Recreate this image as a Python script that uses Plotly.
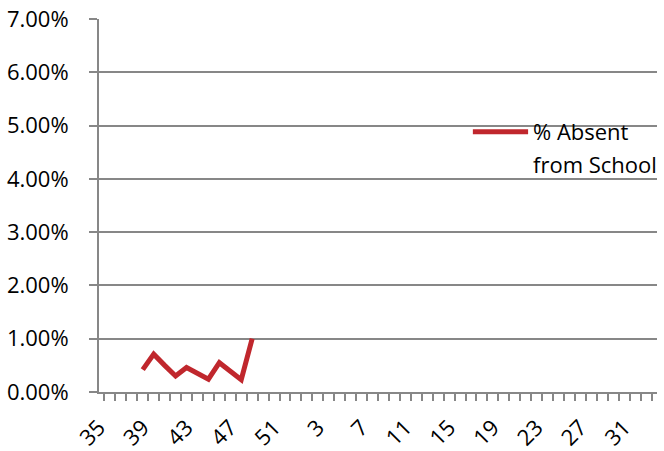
import plotly.graph_objects as go

weeks = ["35", "36", "37", "38", "39", "40", "41", "42", "43", "44", "45", "46",
         "47", "48", "49", "50", "51", "52", "1", "2", "3", "4", "5", "6", "7",
         "8", "9", "10", "11", "12", "13", "14", "15", "16", "17", "18", "19",
         "20", "21", "22", "23", "24", "25", "26", "27", "28", "29", "30", "31",
         "32", "33", "34"]
absent = [None, None, None, None, 0.0042, 0.0071, 0.0050, 0.0030, 0.0046,
          0.0034, 0.0024, 0.0055, 0.0040, 0.0023, 0.0100] + [None] * 37
label_weeks = ["35", "39", "43", "47", "51", "3", "7", "11", "15", "19", "23", "27", "31"]
series_name = "% Absent from School"

FONT = "Open Sans"
GRID = "#878787"
RED = "#C0272D"

fig = go.Figure()
fig.add_trace(go.Scatter(
    x=weeks, y=absent, mode="lines", name=series_name,
    line=dict(color=RED, width=5), connectgaps=False, showlegend=False,
))

fig.update_layout(
    width=664, height=451,
    margin=dict(l=99, r=7, t=19, b=59),
    paper_bgcolor="white", plot_bgcolor="white",
    font=dict(family=FONT, size=22, color="black"),
)
fig.update_xaxes(
    type="category", categoryorder="array", categoryarray=weeks,
    tickmode="array", tickvals=weeks,
    ticktext=[w if w in label_weeks else "" for w in weeks],
    tickson="boundaries", ticks="outside", ticklen=7, tickwidth=1.5, tickcolor=GRID,
    tickangle=-45, showline=True, linecolor=GRID, linewidth=2,
    showgrid=False, tickfont=dict(size=22), ticklabelstandoff=12,
    automargin=False,
)
fig.update_yaxes(
    range=[0, 0.07], dtick=0.01, tickformat=".2%",
    showgrid=True, gridcolor=GRID, gridwidth=1.5,
    showline=True, linecolor=GRID, linewidth=2,
    ticks="outside", ticklen=8, tickwidth=1.5, tickcolor=GRID,
    ticklabelstandoff=16, zeroline=False, tickfont=dict(size=22),
    automargin=False,
)

# legend drawn manually to match the wrapped two-line layout
fig.add_shape(type="line", xref="paper", yref="paper",
              x0=0.670, x1=0.769, y0=0.698, y1=0.698,
              line=dict(color=RED, width=5))
fig.add_annotation(xref="paper", yref="paper", x=0.775, y=0.700,
                   xanchor="left", yanchor="middle", showarrow=False,
                   text="% Absent", font=dict(size=22))
fig.add_annotation(xref="paper", yref="paper", x=0.775, y=0.612,
                   xanchor="left", yanchor="middle", showarrow=False,
                   text="from School", font=dict(size=22))

fig.write_html("out.html")
